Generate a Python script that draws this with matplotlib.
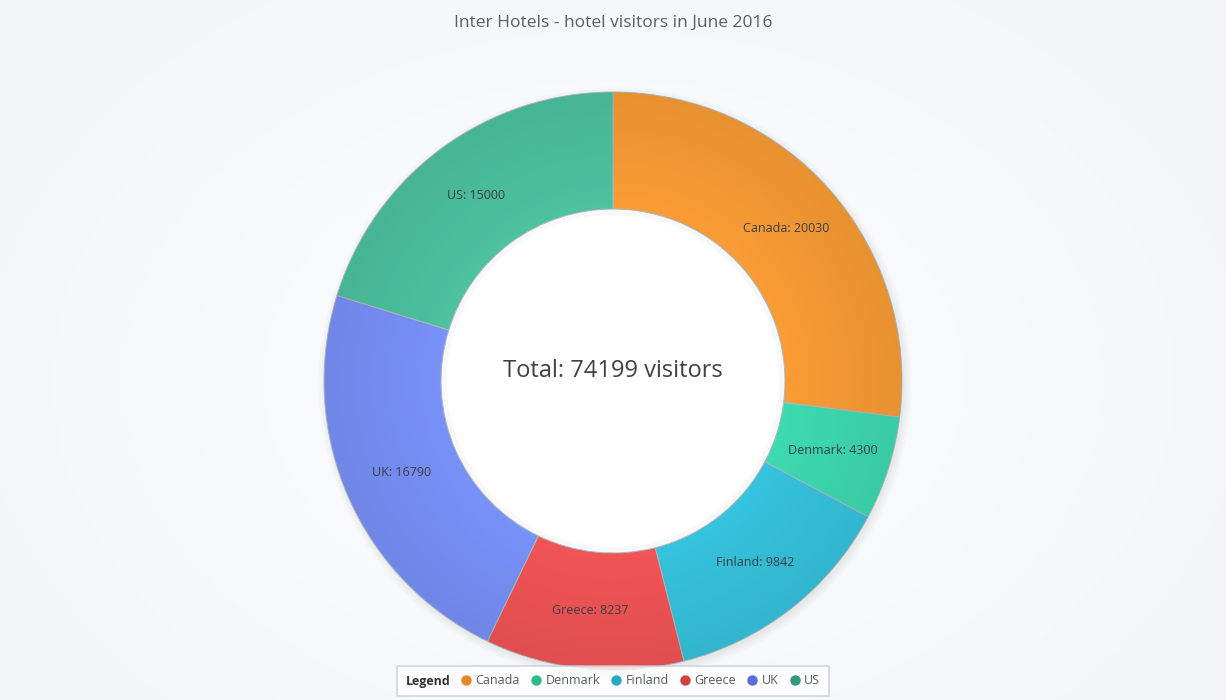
import numpy as np
import matplotlib.pyplot as plt
from matplotlib.lines import Line2D
from matplotlib.patches import Wedge
from matplotlib.offsetbox import HPacker

plt.rcParams['font.family'] = ['Open Sans', 'DejaVu Sans']

# dados
paises = ['Canada', 'Denmark', 'Finland', 'Greece', 'UK', 'US']
visitantes = [20030, 4300, 9842, 8237, 16790, 15000]
cores = ['#F99C35', '#3DDAB0', '#36C3DD', '#F15455', '#7891F8', '#4CC29F']
cores_legenda = ['#DE8A2C', '#2DBB8C', '#2BA7C4', '#D5403F', '#5A6ED6', '#34987A']
titulo = 'Inter Hotels - hotel visitors in June 2016'
total = sum(visitantes)

W, H = 1226, 700
fig = plt.figure(figsize=(W / 100, H / 100), dpi=100)
ax = fig.add_axes([0, 0, 1, 1])

cx, cy = 613, H - 381
r_out, r_in = 289, 172

# fundo com gradiente radial leve
yy, xx = np.mgrid[0:H, 0:W]
d = np.sqrt(((xx - cx) / 700.0) ** 2 + ((yy - cy) / 500.0) ** 2)
d = np.clip(d, 0, 1)
c0 = np.array([1.0, 1.0, 1.0])
c1 = np.array([0xF3, 0xF5, 0xF7]) / 255
bg = c0[None, None, :] * (1 - d[..., None]) + c1[None, None, :] * d[..., None]
ax.imshow(bg, extent=[0, W, 0, H], origin='lower', zorder=0)

# sombra suave
for k in range(6):
    circ = plt.Circle((cx + 2, cy - 3), r_out + k * 1.5, color='#9AA4AE',
                      alpha=0.03, zorder=1, lw=0)
    ax.add_patch(circ)
ax.add_patch(plt.Circle((cx, cy), r_in + 2, color='white', lw=0, zorder=1.5))

wedges, textos = ax.pie(
    visitantes, colors=cores, startangle=90, counterclock=False,
    radius=r_out, center=(cx, cy),
    wedgeprops=dict(width=r_out - r_in, edgecolor='#AEB8C2', linewidth=0.7),
    labels=[f'{p}: {v}' for p, v in zip(paises, visitantes)],
    labeldistance=(r_out + r_in) / 2 / r_out,
    textprops=dict(fontsize=9, color='#3A3F44', ha='center', va='center'),
)
for w in wedges:
    w.set_zorder(2)
for t in textos:
    t.set_zorder(4)
    t.set_horizontalalignment('center')

# escurecimento radial leve sobre o anel
rr = np.sqrt((xx - cx) ** 2 + (yy - cy) ** 2)
a = np.clip((rr - r_in) / (r_out - r_in), 0, 1) * 0.07
over = np.zeros((H, W, 4))
over[..., 3] = a
ring = Wedge((cx, cy), r_out, 0, 360, width=r_out - r_in, transform=ax.transData)
im = ax.imshow(over, extent=[0, W, 0, H], origin='lower', zorder=2.5)
im.set_clip_path(ring)

# sombra interna do furo
for k in range(5):
    circ = plt.Circle((cx, cy), r_in - k * 1.3, fill=False, edgecolor='#8A949E',
                      alpha=0.04, lw=1.3, zorder=3)
    ax.add_patch(circ)

ax.text(cx, H - 371, f'Total: {total} visitors', fontsize=17, color='#3C4247',
        ha='center', va='center', zorder=5)

ax.text(W / 2, H - 23, titulo, fontsize=12.5, color='#5A5F64',
        ha='center', va='center', zorder=5)

# legenda (titulo ao lado das entradas)
handles = [Line2D([], [], marker='o', linestyle='none', markersize=6.5,
                  markerfacecolor=c, markeredgecolor=c) for c in cores_legenda]
leg = ax.legend(handles, paises, ncol=6, loc='center', title='Legend',
                bbox_to_anchor=(613 / W, 19 / H), frameon=True, fontsize=9,
                title_fontproperties=dict(size=9, weight='bold'),
                handlelength=0.7, handletextpad=0.4, columnspacing=0.95,
                borderpad=0.7, fancybox=False)
fs = leg._fontsize
leg._legend_box = HPacker(pad=leg.borderpad * fs, sep=0.9 * fs, align='center',
                          children=[leg._legend_title_box, leg._legend_handle_box])
leg._legend_box.set_figure(fig)
leg._legend_box.axes = ax
leg._legend_box.set_offset(leg._findoffset)
leg.get_frame().set_edgecolor('#C5CED8')
leg.get_frame().set_linewidth(1.2)
leg.get_frame().set_facecolor('white')
leg.set_zorder(6)
for t in leg.get_texts():
    t.set_color('#555A60')
leg.get_title().set_color('#333333')

ax.set_xlim(0, W)
ax.set_ylim(0, H)
ax.set_aspect('equal')
ax.axis('off')

fig.savefig('out.png', dpi=100)
